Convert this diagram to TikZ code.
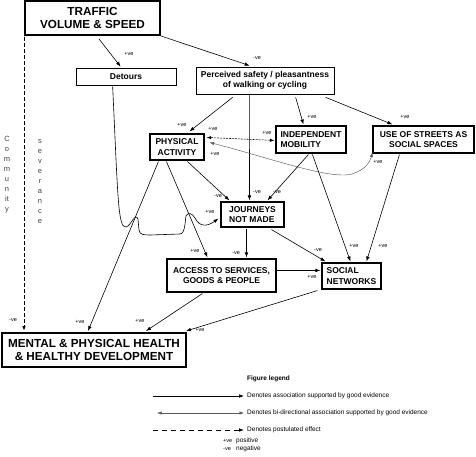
\documentclass[tikz,border=0pt]{standalone}
\usepackage{fontspec}
\setmainfont{Liberation Sans}
\usetikzlibrary{arrows.meta,calc}
\begin{document}
\begin{tikzpicture}[x=1pt,y=-1pt,
  big/.style={draw, line width=2pt, font=\fontsize{11.7}{13.5}\selectfont\bfseries, align=center, inner sep=0},
  mid/.style={draw, line width=1.1pt, font=\fontsize{8.5}{10.3}\selectfont\bfseries, inner sep=0},
  thinbox/.style={draw, line width=0.7pt, font=\fontsize{8.5}{10}\selectfont\bfseries, inner sep=0, align=center},
  lbl/.style={font=\fontsize{5.5}{6}\selectfont, inner sep=0},
  leg/.style={font=\fontsize{6.5}{7}\selectfont, inner sep=0, anchor=west},
  vert/.style={font=\fontsize{7.5}{10}\selectfont, text=black!75, align=center, inner sep=0},
  arr/.style={-{Latex[length=5pt,width=3.6pt]}, line width=0.6pt},
  biarr/.style={{Latex[length=4.5pt,width=3.2pt]}-{Latex[length=4.5pt,width=3.2pt]}, line width=0.45pt, draw=black!65},
  dasharr/.style={{Latex[length=4.5pt,width=3.2pt]}-{Latex[length=4.5pt,width=3.2pt]}, line width=0.55pt, dash pattern=on 2pt off 1pt},
  postarr/.style={-{Latex[length=5pt,width=3.6pt]}, line width=1pt, dash pattern=on 4pt off 2pt}
]
\useasboundingbox (0,0) rectangle (476,457);

% boxes
\node[big, minimum width=135pt, minimum height=34pt] (trf) at (92.5,18) {TRAFFIC\\VOLUME \& SPEED};
\node[thinbox, minimum width=100pt, minimum height=17pt] (det) at (126,76.5) {Detours};
\node[thinbox, minimum width=138pt, minimum height=27pt] (per) at (265,80.5) {Perceived safety / pleasantness\\of walking or cycling};
\node[mid, minimum width=54pt, minimum height=26pt, align=center] (pa) at (177,147) {PHYSICAL\\ACTIVITY};
\node[mid, minimum width=70pt, minimum height=27pt, align=left] (ind) at (311,139.5) {INDEPENDENT\\MOBILITY};
\node[mid, minimum width=101pt, minimum height=27pt, align=center] (use) at (423.5,139.5) {USE OF STREETS AS\\SOCIAL SPACES};
\node[mid, minimum width=63pt, minimum height=25pt, align=left] (jnm) at (252.5,214.5) {JOURNEYS\\NOT MADE};
\node[mid, minimum width=109pt, minimum height=33pt, align=center] (acc) at (221.5,275.5) {ACCESS TO SERVICES,\\GOODS \& PEOPLE};
\node[mid, minimum width=59pt, minimum height=26pt, align=left] (soc) at (351.5,276) {SOCIAL\\NETWORKS};
\node[big, minimum width=184pt, minimum height=34pt] (men) at (94,350) {MENTAL \& PHYSICAL HEALTH\\\& HEALTHY DEVELOPMENT};

% vertical words
\node[vert] (comm) at (7,175) {C\\o\\m\\m\\u\\n\\it\\y};
\node[vert] (sev) at (40,182) {s\\e\\v\\e\\r\\a\\n\\c\\e};

% connectors
\draw[postarr] ($(trf.south west)+(0,1)$) -- ($(men.north west)+(23,-1)$);
\node[lbl] (l0) at (13,320) {-ve};

\draw[arr] ($(trf.south west)+(75,3)$) -- ($(det.north west)+(45,-1)$);
\node[lbl] (l1) at (129,54) {+ve};

\draw[arr] (trf.south east) -- ($(per.north west)+(54,-1)$);
\node[lbl] (l2) at (257,58) {-ve};

\draw[arr] ($(det.south west)+(37,1)$) .. controls (118,200) and (118,228) .. (126,227)
  .. controls (131,226) and (135,212) .. (138,219) -- (139,230)
  .. controls (139,235) and (145,235) .. (150,235) -- (180,234)
  .. controls (185,234) and (185,222) .. (186,216)
  .. controls (188,212) and (192,213) .. (195,218)
  .. controls (200,228) and (208,226) .. ($(jnm.south west)+(-2,-9)$);
\node[lbl] (l3) at (210,212) {+ve};

\draw[arr] ($(per.south west)+(37,3)$) -- ($(pa.north west)+(40,-2)$);
\node[lbl] (l4) at (182,125) {+ve};

\draw[arr] ($(per.south west)+(54,0)$) -- ($(jnm.north west)+(29,-1)$);
\node[lbl] (l5) at (257,192) {-ve};

\draw[arr] ($(per.south west)+(100,3)$) -- ($(ind.north west)+(28,-1)$);
\node[lbl] (l6) at (312,117) {+ve};

\draw[arr] ($(per.south west)+(130,3)$) -- ($(use.north west)+(20,-1)$);
\node[lbl] (l7) at (405,117) {+ve};

\draw[dasharr] ($(pa.north east)+(2,4)$) -- ($(ind.north west)+(-1,15)$);
\node[lbl] (l8) at (213,129) {+ve};
\node[lbl] (l9) at (267,133) {+ve};

\draw[biarr] ($(pa.north east)+(5,9)$) .. controls (270,158) and (330,180) .. (352,174)
  .. controls (365,170) and (370,162) .. ($(use.south west)+(0,-1)$);
\node[lbl] (l10) at (215,154) {+ve};
\node[lbl] (l11) at (378,162) {+ve};

\draw[arr] ($(pa.south west)+(38,1)$) -- ($(jnm.north west)+(9,-1)$);
\node[lbl] (l12) at (218,196) {-ve};

\draw[arr] ($(ind.south west)+(33,1)$) -- ($(jnm.north west)+(47,-1)$);
\node[lbl] (l13) at (277,192) {-ve};

\draw[arr] ($(ind.south west)+(37,1)$) -- ($(soc.north west)+(29,-1)$);
\node[lbl] (l14) at (354,246) {+ve};

\draw[arr] ($(use.south west)+(27,1)$) -- ($(soc.north west)+(45,-1)$);
\node[lbl] (l15) at (383,246) {+ve};

\draw[arr] ($(jnm.south west)+(26,1)$) -- ($(acc.north west)+(80,-1)$);
\node[lbl] (l16) at (236,253) {-ve};

\draw[arr] ($(jnm.south west)+(51,2)$) -- ($(soc.north west)+(4,-1)$);
\node[lbl] (l17) at (318,250) {-ve};

\draw[arr] ($(acc.north east)+(0,12)$) -- ($(soc.north west)+(-1,8)$);
\node[lbl] (l18) at (312,277) {+ve};

\draw[arr] ($(pa.south west)+(17,1)$) -- ($(acc.north west)+(41,-1)$);
\node[lbl] (l19) at (195,251) {+ve};

\draw[arr] ($(pa.south west)+(9,1)$) -- ($(men.north west)+(87,-1)$);
\node[lbl] (l20) at (80,322) {+ve};

\draw[arr] ($(acc.south west)+(36,1)$) -- ($(men.north west)+(145,-1)$);
\node[lbl] (l21) at (140,321) {+ve};

\draw[arr] ($(soc.south west)+(-4,1)$) -- ($(men.north east)+(-1,-1)$);
\node[lbl] (l22) at (200,330) {+ve};

% legend
\node[font=\fontsize{6.5}{7}\selectfont\bfseries, inner sep=0, anchor=west] (lgt) at (247,379) {Figure legend};
\coordinate (a1) at (153,396); \coordinate (b1) at (244,396);
\draw[arr] (a1) -- (b1);
\node[leg] (t1) at (247,396) {Denotes association supported by good evidence};
\coordinate (a2) at (157,413); \coordinate (b2) at (244,413);
\draw[biarr] (a2) -- (b2);
\node[leg] (t2) at (247,413) {Denotes bi-directional association supported by good evidence};
\coordinate (a3) at (153,430); \coordinate (b3) at (244,430);
\draw[-{Latex[length=5pt,width=3.6pt]}, line width=0.8pt, dash pattern=on 5pt off 4pt] (a3) -- (b3);
\node[leg] (t3) at (247,430) {Denotes postulated effect};
\node[lbl, anchor=west] (p1) at (223,441) {+ve};
\node[leg] (p2) at (236,441) {positive};
\node[lbl, anchor=west] (n1) at (223,449) {-ve};
\node[leg] (n2) at (236,449) {negative};
\end{tikzpicture}
\end{document}
